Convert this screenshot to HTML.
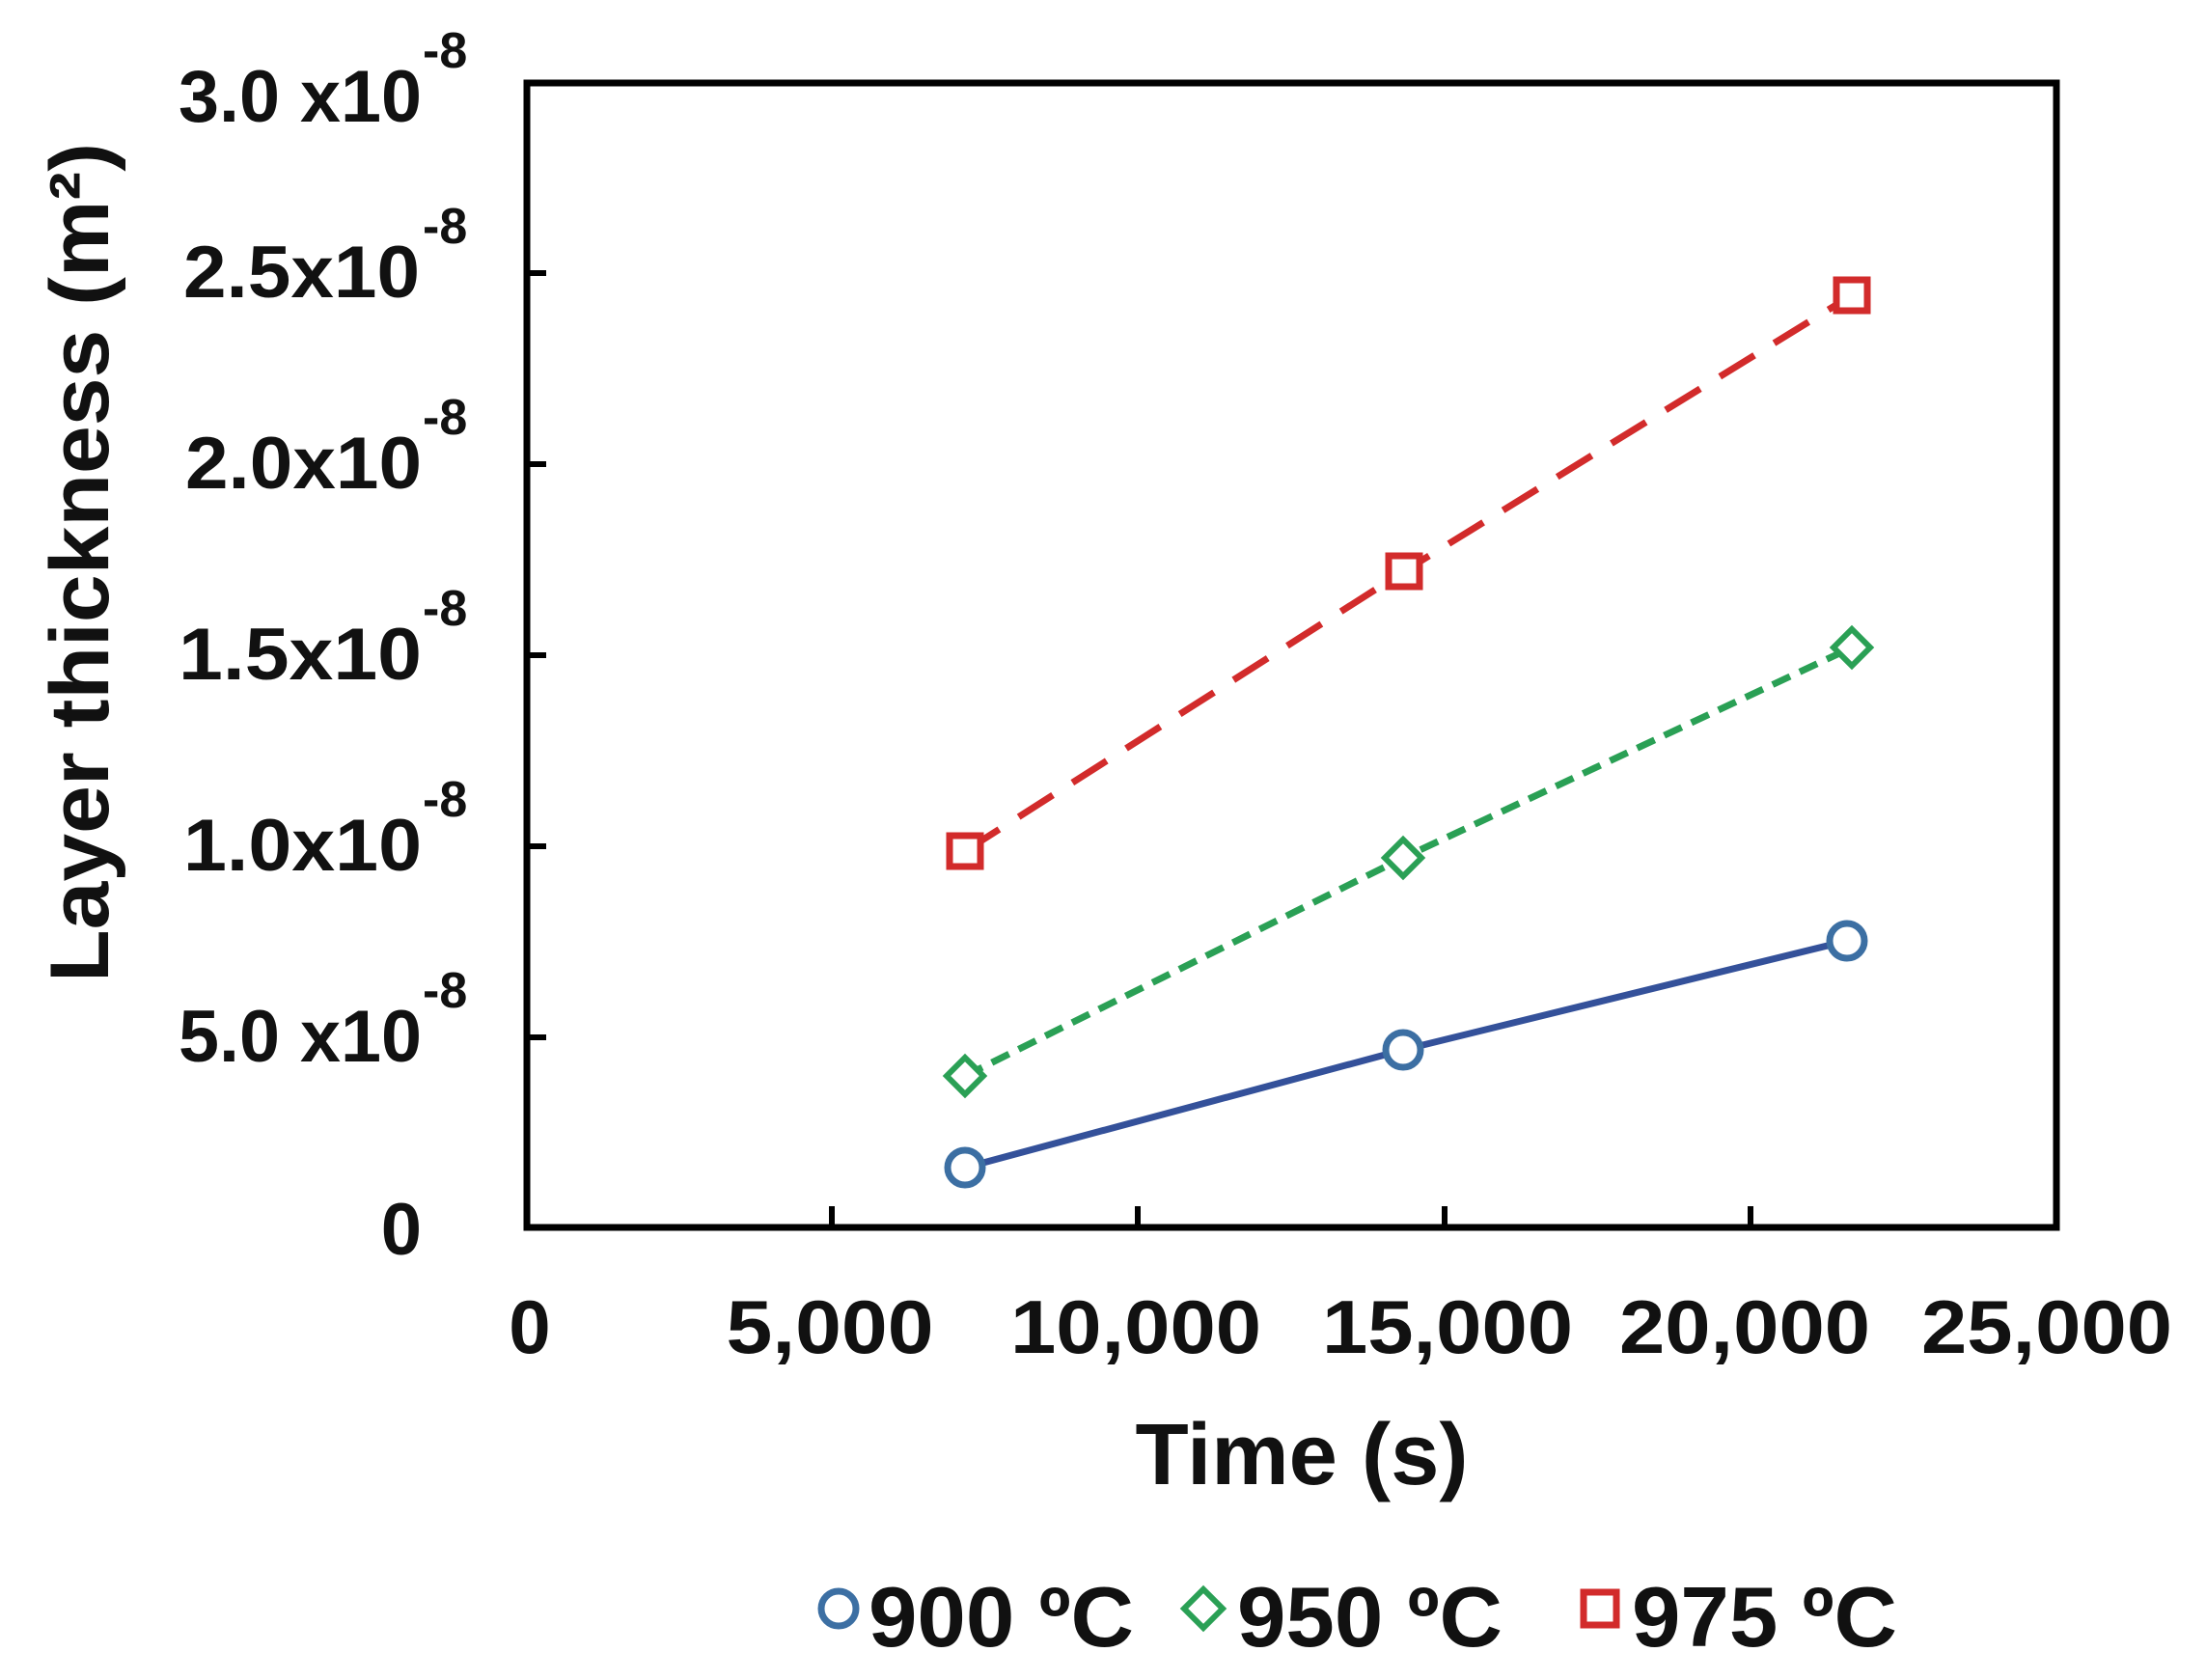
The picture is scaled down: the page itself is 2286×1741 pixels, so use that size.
<!DOCTYPE html>
<html><head><meta charset="utf-8"><style>html,body{margin:0;padding:0;background:#fff}svg{display:block}</style></head>
<body>
<svg width="2286" height="1741" viewBox="0 0 2286 1741" xmlns="http://www.w3.org/2000/svg" font-family="Liberation Sans, Arial, sans-serif" font-weight="bold" fill="#111">
<rect x="0" y="0" width="2286" height="1741" fill="#fff"/>
<rect x="546" y="86" width="1585" height="1186" fill="none" stroke="#000" stroke-width="7"/>
<g stroke="#000" stroke-width="6">
<line x1="862" y1="1272" x2="862" y2="1250"/>
<line x1="1179" y1="1272" x2="1179" y2="1250"/>
<line x1="1497" y1="1272" x2="1497" y2="1250"/>
<line x1="1814" y1="1272" x2="1814" y2="1250"/>
<line x1="546" y1="1075" x2="566" y2="1075"/>
<line x1="546" y1="877" x2="566" y2="877"/>
<line x1="546" y1="679" x2="566" y2="679"/>
<line x1="546" y1="481" x2="566" y2="481"/>
<line x1="546" y1="283" x2="566" y2="283"/>
</g>
<g font-size="76">
<text x="185" y="126" textLength="252" lengthAdjust="spacingAndGlyphs">3.0 x10</text>
<text x="190" y="308" textLength="245" lengthAdjust="spacingAndGlyphs">2.5x10</text>
<text x="192" y="506" textLength="245" lengthAdjust="spacingAndGlyphs">2.0x10</text>
<text x="185" y="704" textLength="252" lengthAdjust="spacingAndGlyphs">1.5x10</text>
<text x="190" y="902" textLength="247" lengthAdjust="spacingAndGlyphs">1.0x10</text>
<text x="185" y="1100" textLength="252" lengthAdjust="spacingAndGlyphs">5.0 x10</text>
<text x="437" y="1300" text-anchor="end">0</text>
</g>
<g font-size="52">
<text x="438" y="70">-8</text>
<text x="438" y="252">-8</text>
<text x="438" y="450">-8</text>
<text x="438" y="648">-8</text>
<text x="438" y="846">-8</text>
<text x="438" y="1044">-8</text>
</g>
<g font-size="78" text-anchor="middle">
<text x="549" y="1402">0</text>
<text x="860" y="1402" textLength="215" lengthAdjust="spacingAndGlyphs">5,000</text>
<text x="1177" y="1402" textLength="260" lengthAdjust="spacingAndGlyphs">10,000</text>
<text x="1500" y="1402" textLength="260" lengthAdjust="spacingAndGlyphs">15,000</text>
<text x="1808" y="1402" textLength="260" lengthAdjust="spacingAndGlyphs">20,000</text>
<text x="2121" y="1402" textLength="260" lengthAdjust="spacingAndGlyphs">25,000</text>
</g>
<text x="1349" y="1538" font-size="90" text-anchor="middle" textLength="345" lengthAdjust="spacingAndGlyphs">Time (s)</text>
<text transform="translate(112,583) rotate(-90)" font-size="86" text-anchor="middle" textLength="870" lengthAdjust="spacingAndGlyphs">Layer thickness (m²)</text>
<polyline points="1000,1210 1454,1088 1914,975" fill="none" stroke="#34519a" stroke-width="7"/>
<polyline points="1000,1115 1454,889 1919,671" fill="none" stroke="#2aa055" stroke-width="7" stroke-dasharray="20,11"/>
<polyline points="1000,882 1455,592 1919,306" fill="none" stroke="#d22b2b" stroke-width="7" stroke-dasharray="42,24"/>
<g fill="#fff" stroke="#3c6fa3" stroke-width="7">
<circle cx="1000" cy="1210" r="18"/><circle cx="1454" cy="1088" r="18"/><circle cx="1914" cy="975" r="18"/>
</g>
<g fill="#fff" stroke="#2aa055" stroke-width="6">
<polygon points="1000,1096 1019,1115 1000,1134 981,1115"/>
<polygon points="1454,870 1473,889 1454,908 1435,889"/>
<polygon points="1919,652 1938,671 1919,690 1900,671"/>
</g>
<g fill="#fff" stroke="#d22b2b" stroke-width="7">
<rect x="984" y="866" width="32" height="32"/>
<rect x="1439" y="576" width="32" height="32"/>
<rect x="1903" y="290" width="32" height="32"/>
</g>
<circle cx="869" cy="1667" r="18" fill="#fff" stroke="#3c6fa3" stroke-width="7"/>
<polygon points="1247,1647 1267,1667 1247,1687 1227,1667" fill="#fff" stroke="#2aa055" stroke-width="6"/>
<rect x="1641" y="1650" width="34" height="34" fill="#fff" stroke="#d22b2b" stroke-width="7"/>
<g font-size="88">
<text x="900" y="1706" textLength="275" lengthAdjust="spacingAndGlyphs">900 ºC</text>
<text x="1282" y="1706" textLength="275" lengthAdjust="spacingAndGlyphs">950 ºC</text>
<text x="1691" y="1706" textLength="275" lengthAdjust="spacingAndGlyphs">975 ºC</text>
</g>
</svg>
</body></html>
